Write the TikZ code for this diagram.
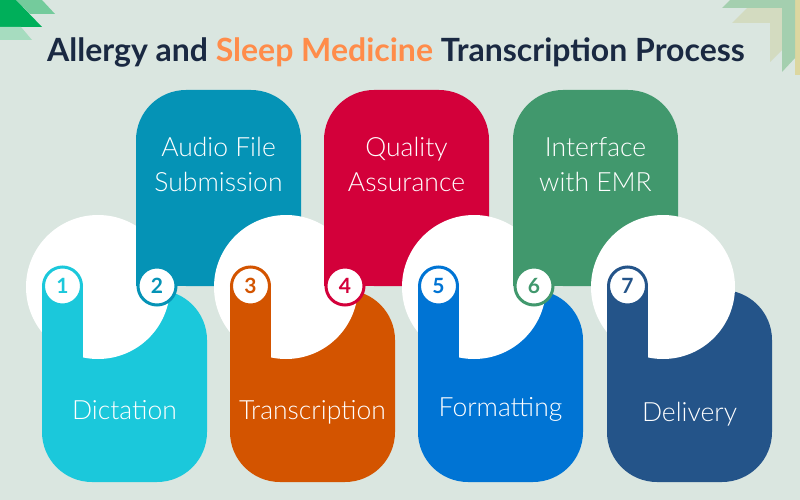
\documentclass[tikz,border=0pt]{standalone}
\usepackage{fontspec}
\setmainfont{Lato}
\newfontfamily\lblfont{Lato Light}
\definecolor{bg}{HTML}{DAE6E0}
\definecolor{c1}{HTML}{1BC8DB}
\definecolor{c2}{HTML}{0593B6}
\definecolor{c3}{HTML}{D35400}
\definecolor{c4}{HTML}{D3003A}
\definecolor{c5}{HTML}{0074D4}
\definecolor{c6}{HTML}{41986D}
\definecolor{c7}{HTML}{245489}
\definecolor{ttldark}{HTML}{1A2942}
\definecolor{ttlorange}{HTML}{FF8C4A}
\definecolor{dgreen}{HTML}{00AF5A}
\definecolor{lgreen}{HTML}{74CB9C}
\definecolor{pgreen}{HTML}{A6DCBF}
\definecolor{chgreen}{HTML}{9FCDAA}
\definecolor{chbeige}{HTML}{D3DBC0}
\definecolor{chyellow}{HTML}{DCD7A0}
\tikzset{
  numcirc/.style={circle, minimum size=38pt, inner sep=0pt, fill=white, line width=3pt,
    font=\fontsize{21}{21}\selectfont\bfseries},
  lbl/.style={anchor=base, text=white, inner sep=0pt, font=\lblfont\fontsize{26.5}{30}\selectfont},
}
\newcommand\oddstep[5]{%
  \fill[#3, rounded corners=50pt] (#2,290) rectangle (#2+165,482);
  \fill[white] (#2+56,287) circle[radius=72pt];
  \fill[#3] (#2,286) rectangle (#2+41,380);
  \node[numcirc, draw=#3, text=#3] (num#1) at (#2+20.5,286) {#1};
  \node[lbl] (lbl#1) at (#2+82.5,#5) {#4};
}
\newcommand\evenstep[5]{%
  \fill[#3, rounded corners=50pt] (#2,90) rectangle (#2+165,286);
  \fill[#3] (#2,200) rectangle (#2+165,286);
  \node[numcirc, draw=#3, text=#3] (num#1) at (#2+21,286) {#1};
  \node[lbl] (lbla#1) at (#2+82.5,156) {#4};
  \node[lbl] (lblb#1) at (#2+82.5,191) {#5};
}
\begin{document}
\begin{tikzpicture}[x=1pt,y=-1pt]
\fill[bg] (0,0) rectangle (800,500);
\useasboundingbox (0,0) rectangle (800,500);
% corner decorations
\fill[lgreen] (16,0) -- (42,0) -- (55,14) -- (30,14) -- cycle;
\fill[dgreen] (0,0) -- (16,0) -- (42,27) -- (0,27) -- cycle;
\fill[pgreen] (0,27) -- (21,27) -- (32,40) -- (0,40) -- cycle;
\fill[chyellow] (795,0) rectangle (800,75);
\fill[chbeige] (732,23) -- (747,8) -- (782,8) -- (782,50) -- (770,62) -- (770,23) -- cycle;
\fill[chgreen, opacity=0.9] (722,8) -- (730,0) -- (795,0) -- (795,58) -- (782,72) -- (782,8) -- cycle;
% title
\node[anchor=base, inner sep=0pt, text=ttldark, font=\fontsize{32}{36}\selectfont\bfseries] (title) at (396,62)
  {Allergy and \textcolor{ttlorange}{Sleep Medicine} Transcription Process};
% steps
\oddstep{1}{42}{c1}{Dictation}{419}
\evenstep{2}{136}{c2}{Audio File}{Submission}
\oddstep{3}{230}{c3}{Transcription}{419}
\evenstep{4}{324}{c4}{Quality}{Assurance}
\oddstep{5}{418}{c5}{Formatting}{416}
\evenstep{6}{513}{c6}{Interface}{with EMR}
\oddstep{7}{607}{c7}{Delivery}{421}
\end{tikzpicture}
\end{document}
